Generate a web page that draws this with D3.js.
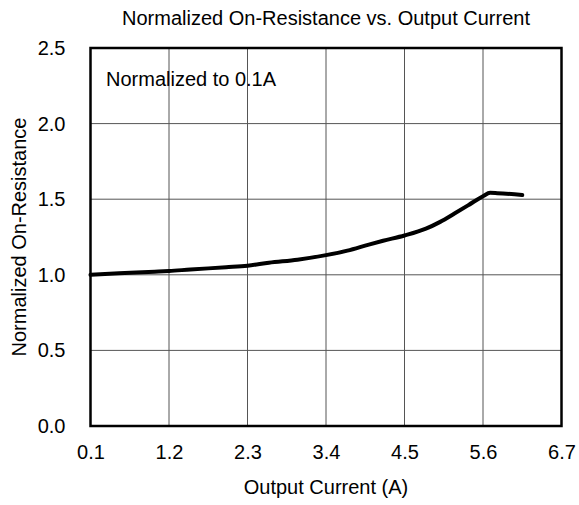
<!DOCTYPE html>
<html><head><meta charset="utf-8">
<script src="https://cdn.jsdelivr.net/npm/d3@7"></script>
<style>body{margin:0;background:#fff}svg{display:block}text{font-family:"Liberation Sans",Arial,sans-serif;fill:#000}</style>
</head><body><svg id="c" width="579" height="505"></svg>
<script>
const xTicks = [0.1, 1.2, 2.3, 3.4, 4.5, 5.6, 6.7];
const yTicks = [0.0, 0.5, 1.0, 1.5, 2.0, 2.5];
const current = [0.1,0.5,1.0,1.2,1.5,2.0,2.3,2.6,3.0,3.4,3.7,4.0,4.2,4.5,4.8,5.0,5.2,5.4,5.6,5.7,5.8,6.15];
const resistance = [1.00,1.01,1.02,1.025,1.035,1.05,1.06,1.08,1.10,1.13,1.16,1.20,1.225,1.26,1.305,1.35,1.405,1.462,1.52,1.542,1.54,1.528];

const FS = 20;
const svg = d3.select("#c");
const L=90.5, R=561.5, T=48, B=426;
const x = d3.scaleLinear().domain([0.1,6.7]).range([L,R]);
const y = d3.scaleLinear().domain([0,2.5]).range([B,T]);

const g = svg.append("g");
g.selectAll(".vg").data(xTicks.slice(1,-1)).enter().append("line")
 .attr("x1",d=>x(d)).attr("x2",d=>x(d)).attr("y1",T).attr("y2",B)
 .attr("stroke","#555").attr("stroke-width",1);
g.selectAll(".hg").data(yTicks.slice(1,-1)).enter().append("line")
 .attr("y1",d=>y(d)).attr("y2",d=>y(d)).attr("x1",L).attr("x2",R)
 .attr("stroke","#555").attr("stroke-width",1);

const xa = svg.append("g").attr("transform",`translate(0,${B})`)
 .call(d3.axisBottom(x).tickValues(xTicks).tickFormat(d3.format(".1f")).tickSize(0).tickPadding(19));
const ya = svg.append("g").attr("transform",`translate(${L},0)`)
 .call(d3.axisLeft(y).tickValues(yTicks).tickFormat(d3.format(".1f")).tickSize(0).tickPadding(25));
[xa,ya].forEach(a=>{a.select(".domain").remove();a.selectAll("text").attr("font-size",FS).attr("font-family","Liberation Sans, Arial, sans-serif").attr("fill","#000");});

svg.append("rect").attr("x",L).attr("y",T).attr("width",R-L).attr("height",B-T)
 .attr("fill","none").attr("stroke","#000").attr("stroke-width",2.5);

const line = d3.line().x((d,i)=>x(current[i])).y(d=>y(d)).curve(d3.curveMonotoneX);
svg.append("path").datum(resistance).attr("d",line).attr("fill","none")
 .attr("stroke","#000").attr("stroke-width",4).attr("stroke-linejoin","round").attr("stroke-linecap","round");

svg.append("text").attr("x",(L+R)/2).attr("y",25).attr("text-anchor","middle").attr("font-size",FS)
 .text("Normalized On-Resistance vs. Output Current");
svg.append("text").attr("x",(L+R)/2).attr("y",494).attr("text-anchor","middle").attr("font-size",FS)
 .text("Output Current (A)");
svg.append("text").attr("transform",`translate(26,${(T+B)/2}) rotate(-90)`).attr("text-anchor","middle").attr("font-size",FS)
 .text("Normalized On-Resistance");
svg.append("text").attr("x",106).attr("y",86).attr("font-size",FS).text("Normalized to 0.1A");
</script></body></html>
